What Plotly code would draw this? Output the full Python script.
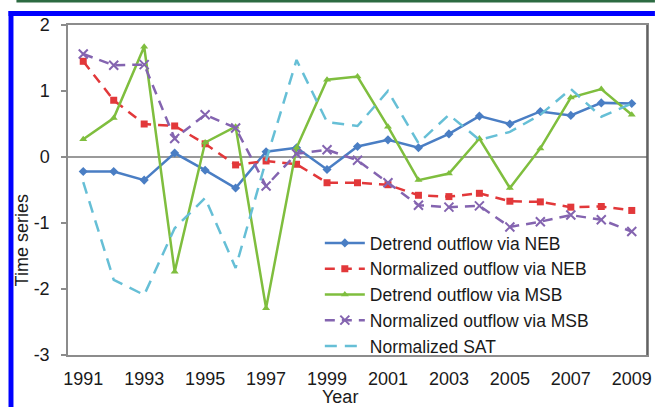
import plotly.graph_objects as go

# Annual series, 1991-2009
years = list(range(1991, 2010))

detrend_neb = [-0.22, -0.22, -0.35, 0.06, -0.20, -0.47, 0.08, 0.14, -0.19, 0.16,
               0.26, 0.14, 0.35, 0.62, 0.50, 0.69, 0.63, 0.82, 0.81]
normalized_neb = [1.45, 0.86, 0.50, 0.47, 0.20, -0.12, -0.06, -0.11, -0.39, -0.39,
                  -0.42, -0.58, -0.60, -0.55, -0.67, -0.68, -0.76, -0.75, -0.81]
detrend_msb = [0.27, 0.59, 1.67, -1.74, 0.22, 0.46, -2.29, 0.14, 1.17, 1.22,
               0.46, -0.35, -0.25, 0.28, -0.47, 0.13, 0.90, 1.03, 0.64]
normalized_msb = [1.56, 1.39, 1.40, 0.28, 0.64, 0.44, -0.44, 0.05, 0.11, -0.05,
                  -0.39, -0.73, -0.76, -0.74, -1.06, -0.98, -0.88, -0.95, -1.13]
normalized_sat = [-0.38, -1.86, -2.09, -1.08, -0.62, -1.68, -0.05, 1.47, 0.53, 0.47,
                  1.00, 0.21, 0.64, 0.26, 0.38, 0.64, 1.03, 0.61, 0.81]

tick_years = [1991, 1993, 1995, 1997, 1999, 2001, 2003, 2005, 2007, 2009]
y_ticks = [-3, -2, -1, 0, 1, 2]
y_labels = ["-3", "-2", "-1", "0", "1", "2"]
boundaries = [y + 0.5 for y in years[:-1]]

FONT = "Liberation Sans, Arial, sans-serif"
TXT = "#1a1a1a"
W, H = 656, 407
L, R, T, B = 68, 652, 25, 355


def px(x):
    return (x - L) / (R - L)


def py(y):
    return (B - y) / (B - T)


fig = go.Figure()

fig.add_trace(go.Scatter(
    x=years, y=detrend_neb, name="Detrend outflow via NEB", mode="lines+markers",
    line=dict(color="#4a7ec4", width=2.5),
    marker=dict(symbol="diamond", size=7, color="#4a7ec4")))
fig.add_trace(go.Scatter(
    x=years, y=normalized_neb, name="Normalized outflow via NEB", mode="lines+markers",
    line=dict(color="#e2383a", width=2.5, dash="10px,7px"),
    marker=dict(symbol="square", size=7, color="#e2383a")))
fig.add_trace(go.Scatter(
    x=years, y=detrend_msb, name="Detrend outflow via MSB", mode="lines+markers",
    line=dict(color="#7fbe3e", width=2.5),
    marker=dict(symbol="triangle-up", size=7, color="#7fbe3e")))
fig.add_trace(go.Scatter(
    x=years, y=normalized_msb, name="Normalized outflow via MSB", mode="lines+markers",
    line=dict(color="#8464b0", width=2.5, dash="10px,7px"),
    marker=dict(symbol="x-thin-open", size=9, color="#8464b0",
                line=dict(color="#8464b0", width=2))))
fig.add_trace(go.Scatter(
    x=years, y=normalized_sat, name="Normalized SAT", mode="lines",
    line=dict(color="#66bfd6", width=2.5, dash="12px,8px")))

fig.update_layout(
    width=W, height=H,
    margin=dict(l=L, r=W - R, t=T, b=H - B),
    paper_bgcolor="white", plot_bgcolor="white",
    font=dict(family=FONT, size=18, color=TXT),
    showlegend=True,
    legend=dict(x=px(322), y=py(225), xanchor="left", yanchor="top",
                bgcolor="rgba(0,0,0,0)", font=dict(size=17.5, color=TXT),
                itemwidth=40, tracegroupgap=0),
    xaxis=dict(range=[1990.5, 2009.5], tickvals=tick_years,
               ticktext=[str(y) for y in tick_years],
               showgrid=False, zeroline=False,
               showline=True, linecolor="#8c8c8c", linewidth=1.5, mirror=True,
               ticks="", ticklabelstandoff=7,
               tickfont=dict(size=18, color=TXT)),
    xaxis2=dict(range=[1990.5, 2009.5], overlaying="x", anchor="free",
                position=py(157), side="bottom",
                tickvals=boundaries, ticks="outside", ticklen=4,
                tickcolor="#8c8c8c", tickwidth=1.5,
                showticklabels=False, showgrid=False, zeroline=False,
                showline=False),
    yaxis=dict(range=[-3, 2], tickvals=y_ticks, ticktext=y_labels,
               showgrid=False,
               zeroline=True, zerolinecolor="#9a9a9a", zerolinewidth=1.5,
               showline=True, linecolor="#8c8c8c", linewidth=1.5, mirror=True,
               ticks="outside", ticklen=5, tickcolor="#8c8c8c", tickwidth=1.5,
               ticklabelstandoff=8,
               tickfont=dict(size=18, color=TXT)),
)

# Darker right edge of the plotting area
fig.add_shape(type="line", xref="paper", yref="paper",
              x0=1, x1=1, y0=0, y1=1, line=dict(color="#555555", width=1.5))

# Axis titles
fig.add_annotation(text="Time series", xref="paper", yref="paper",
                   x=px(22), y=py(240), xanchor="center", yanchor="middle",
                   textangle=-90, showarrow=False,
                   font=dict(size=18, color=TXT))
fig.add_annotation(text="Year", xref="paper", yref="paper",
                   x=px(342), y=py(397), xanchor="center", yanchor="middle",
                   showarrow=False, font=dict(size=18, color=TXT))

# Frame decoration: green rule on top, blue border
fig.add_shape(type="rect", xref="paper", yref="paper",
              x0=px(16), x1=px(660), y0=py(2.5), y1=py(-1),
              fillcolor="#2c6b42", line=dict(width=0), layer="above")
fig.add_shape(type="rect", xref="paper", yref="paper",
              x0=px(8), x1=px(13), y0=py(420), y1=py(11),
              fillcolor="#0000ff", line=dict(width=0), layer="above")
fig.add_shape(type="rect", xref="paper", yref="paper",
              x0=px(8), x1=px(660), y0=py(16), y1=py(11),
              fillcolor="#0000ff", line=dict(width=0), layer="above")

fig.write_html("out.html")
